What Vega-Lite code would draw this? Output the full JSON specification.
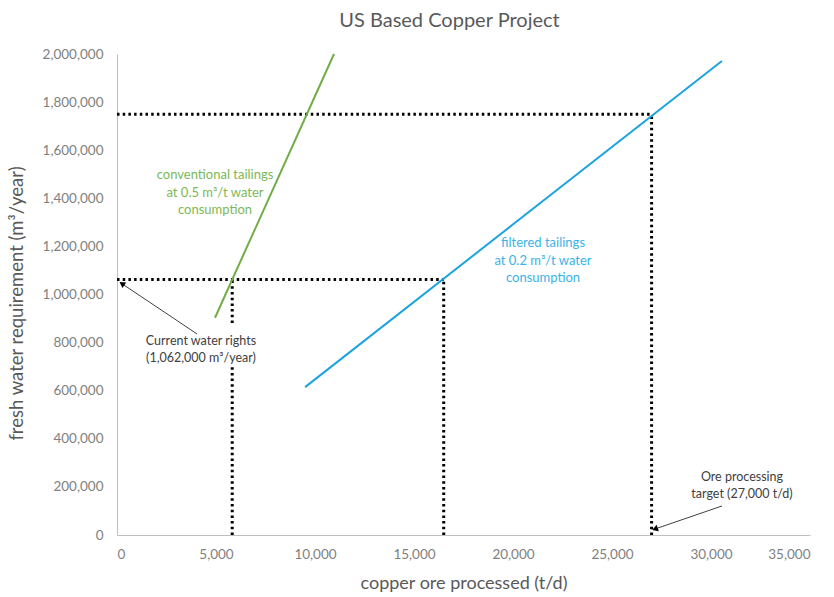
{
  "$schema": "https://vega.github.io/schema/vega-lite/v6.json",
  "width": 693,
  "height": 481,
  "autosize": {"type": "none"},
  "padding": {"left": 117, "top": 54, "right": 24, "bottom": 62},
  "background": "white",
  "title": {"text": "US Based Copper Project", "fontSize": 20, "font": "Lato", "fontWeight": "normal", "color": "#595959", "offset": 16, "anchor": "middle", "dx": -14},
  "config": {
    "view": {"stroke": null},
    "font": "Lato",
    "axis": {"grid": false, "ticks": false, "domainColor": "#BFBFBF", "domainWidth": 1, "labelColor": "#7F7F7F", "labelFontSize": 13.5, "labelFont": "Lato", "titleColor": "#595959", "titleFont": "Lato", "titleFontWeight": "normal", "titleFontSize": 18}
  },
  "datasets": {
    "lines": [
      {"series": "conventional", "ore": 4950, "water": 903375},
      {"series": "conventional", "ore": 10959, "water": 2000000},
      {"series": "filtered", "ore": 9500, "water": 615000},
      {"series": "filtered", "ore": 30550, "water": 1971000}
    ],
    "guides": [
      {"x1": 0, "x2": 27000, "y1": 1750000, "y2": 1750000},
      {"x1": 0, "x2": 16500, "y1": 1062000, "y2": 1062000},
      {"x1": 5819, "x2": 5819, "y1": 0, "y2": 698500},
      {"x1": 5819, "x2": 5819, "y1": 881500, "y2": 1062000},
      {"x1": 16500, "x2": 16500, "y1": 0, "y2": 1062000},
      {"x1": 27000, "x2": 27000, "y1": 0, "y2": 1750000}
    ],
    "arrows": [
      {"id": "rights", "x1": 4040, "y1": 836000, "x2": 250, "y2": 1045000},
      {"id": "target", "x1": 30555, "y1": 120600, "x2": 27170, "y2": 25000}
    ],
    "labels": [
      {"group": "conventional", "ore": 4950, "water": 1497000, "text": "conventional tailings"},
      {"group": "conventional", "ore": 4950, "water": 1422000, "text": "at 0.5 m³/t water"},
      {"group": "conventional", "ore": 4950, "water": 1351000, "text": "consumption"},
      {"group": "filtered", "ore": 21515, "water": 1214000, "text": "filtered tailings"},
      {"group": "filtered", "ore": 21515, "water": 1139000, "text": "at 0.2 m³/t water"},
      {"group": "filtered", "ore": 21515, "water": 1068600, "text": "consumption"},
      {"group": "note", "ore": 4240, "water": 806700, "text": "Current water rights"},
      {"group": "note", "ore": 4240, "water": 736000, "text": "(1,062,000 m³/year)"},
      {"group": "note", "ore": 31565, "water": 241000, "text": "Ore processing"},
      {"group": "note", "ore": 31565, "water": 170500, "text": "target (27,000 t/d)"}
    ]
  },
  "layer": [
    {
      "data": {"name": "guides"},
      "mark": {"type": "rule", "color": "black", "strokeWidth": 3, "strokeDash": [2.5, 3.2]},
      "encoding": {
        "x": {"field": "x1", "type": "quantitative", "scale": {"domain": [0, 35000]}, "axis": {"title": "copper ore processed (t/d)", "values": [0, 5000, 10000, 15000, 20000, 25000, 30000, 35000], "format": ",d", "labelPadding": 12, "titlePadding": 14}},
        "x2": {"field": "x2"},
        "y": {"field": "y1", "type": "quantitative", "scale": {"domain": [0, 2000000]}, "axis": {"title": "fresh water requirement (m³/year)", "values": [0, 200000, 400000, 600000, 800000, 1000000, 1200000, 1400000, 1600000, 1800000, 2000000], "format": ",d", "labelPadding": 14, "titlePadding": 16, "titleY": 249, "titleFontSize": 18.5}},
        "y2": {"field": "y2"}
      }
    },
    {
      "data": {"name": "lines"},
      "mark": {"type": "line", "strokeWidth": 2},
      "encoding": {
        "x": {"field": "ore", "type": "quantitative"},
        "y": {"field": "water", "type": "quantitative"},
        "color": {"field": "series", "type": "nominal", "scale": {"domain": ["conventional", "filtered"], "range": ["#70AD47", "#1AA3DE"]}, "legend": null}
      }
    },
    {
      "data": {"name": "arrows"},
      "mark": {"type": "rule", "color": "#404040", "strokeWidth": 1},
      "encoding": {
        "x": {"field": "x1", "type": "quantitative"},
        "x2": {"field": "x2"},
        "y": {"field": "y1", "type": "quantitative"},
        "y2": {"field": "y2"}
      }
    },
    {
      "data": {"name": "arrows"},
      "transform": [{"filter": "datum.id == 'rights'"}],
      "mark": {"type": "point", "shape": "triangle-up", "filled": true, "color": "black", "size": 45, "angle": 304, "opacity": 1},
      "encoding": {
        "x": {"field": "x2", "type": "quantitative"},
        "y": {"field": "y2", "type": "quantitative"}
      }
    },
    {
      "data": {"name": "arrows"},
      "transform": [{"filter": "datum.id == 'target'"}],
      "mark": {"type": "point", "shape": "triangle-up", "filled": true, "color": "black", "size": 45, "angle": 251, "opacity": 1},
      "encoding": {
        "x": {"field": "x2", "type": "quantitative"},
        "y": {"field": "y2", "type": "quantitative"}
      }
    },
    {
      "data": {"name": "labels"},
      "transform": [{"filter": "datum.group == 'conventional'"}],
      "mark": {"type": "text", "color": "#7CB856", "fontSize": 13, "font": "Lato", "align": "center", "baseline": "middle"},
      "encoding": {
        "x": {"field": "ore", "type": "quantitative"},
        "y": {"field": "water", "type": "quantitative"},
        "text": {"field": "text"}
      }
    },
    {
      "data": {"name": "labels"},
      "transform": [{"filter": "datum.group == 'filtered'"}],
      "mark": {"type": "text", "color": "#3BB2E8", "fontSize": 13, "font": "Lato", "align": "center", "baseline": "middle"},
      "encoding": {
        "x": {"field": "ore", "type": "quantitative"},
        "y": {"field": "water", "type": "quantitative"},
        "text": {"field": "text"}
      }
    },
    {
      "data": {"name": "labels"},
      "transform": [{"filter": "datum.group == 'note'"}],
      "mark": {"type": "text", "color": "#404040", "fontSize": 12.5, "font": "Lato", "align": "center", "baseline": "middle"},
      "encoding": {
        "x": {"field": "ore", "type": "quantitative"},
        "y": {"field": "water", "type": "quantitative"},
        "text": {"field": "text"}
      }
    }
  ]
}
